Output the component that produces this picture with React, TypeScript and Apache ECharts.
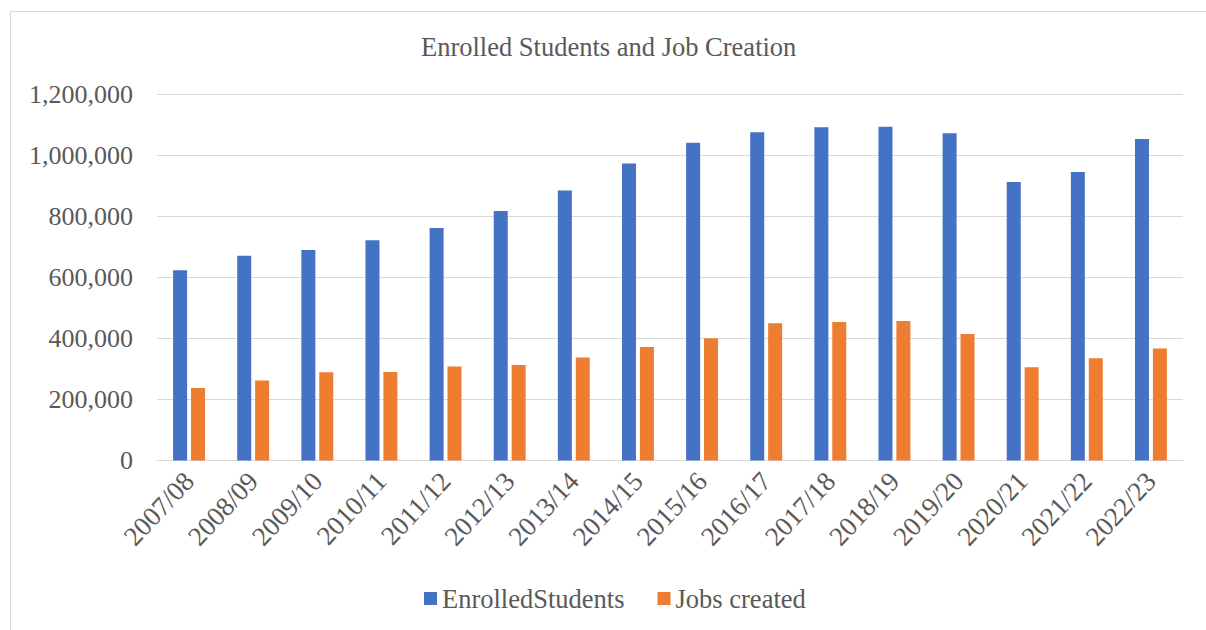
import React, { useEffect, useRef } from "react";
import * as echarts from "echarts";

const categories = [
  "2007/08", "2008/09", "2009/10", "2010/11", "2011/12", "2012/13", "2013/14", "2014/15",
  "2015/16", "2016/17", "2017/18", "2018/19", "2019/20", "2020/21", "2021/22", "2022/23",
];
const enrolledStudents = [
  624000, 671000, 690000, 722000, 762000, 818000, 885000, 974000,
  1042000, 1076000, 1093000, 1094000, 1073000, 913000, 946000, 1054000,
];
const jobsCreated = [
  238000, 262000, 289000, 290000, 308000, 313000, 338000, 372000,
  401000, 450000, 454000, 457000, 415000, 306000, 335000, 367000,
];
const seriesNames = ["EnrolledStudents", "Jobs created"];
const titleText = "Enrolled Students and Job Creation";

const FONT = "Liberation Serif";
const TEXT = "#595959";

export default function App() {
  const ref = useRef<HTMLDivElement>(null);
  useEffect(() => {
    document.body.style.margin = "0";
    const chart = echarts.init(ref.current!, null, { renderer: "svg" });
    chart.setOption({
      animation: false,
      backgroundColor: "#ffffff",
      textStyle: { fontFamily: FONT, color: TEXT },
      graphic: [
        {
          type: "rect",
          shape: { x: 10.5, y: 11.5, width: 1220, height: 700 },
          style: { fill: "none", stroke: "#d9d9d9", lineWidth: 1 },
          silent: true,
        },
      ],
      title: {
        text: titleText,
        left: 421,
        top: 33,
        padding: 0,
        textStyle: { fontFamily: FONT, fontSize: 26.5, fontWeight: "normal", color: TEXT },
      },
      legend: {
        data: seriesNames,
        left: 424,
        top: 585,
        itemWidth: 13,
        itemHeight: 13,
        itemGap: 33,
        icon: "rect",
        padding: 0,
        textStyle: { fontFamily: FONT, fontSize: 26.5, color: TEXT },
      },
      grid: { left: 157, right: 23, top: 94.5, bottom: 169.5, containLabel: false },
      xAxis: {
        type: "category",
        data: categories,
        axisLine: { lineStyle: { color: "#d9d9d9", width: 1 } },
        axisTick: { show: false },
        axisLabel: {
          rotate: 47,
          margin: 16,
          interval: 0,
          fontFamily: FONT,
          fontSize: 27,
          color: TEXT,
        },
      },
      yAxis: {
        type: "value",
        min: 0,
        max: 1200000,
        interval: 200000,
        axisLine: { show: false },
        axisTick: { show: false },
        splitLine: { lineStyle: { color: "#d9d9d9", width: 1 } },
        axisLabel: {
          margin: 24,
          fontFamily: FONT,
          fontSize: 26,
          color: TEXT,
          formatter: (v: number) => v.toLocaleString("en-US"),
        },
      },
      series: [
        {
          name: seriesNames[0],
          type: "bar",
          data: enrolledStudents,
          barWidth: 14,
          barGap: "28%",
          itemStyle: { color: "#4472C4" },
        },
        {
          name: seriesNames[1],
          type: "bar",
          data: jobsCreated,
          barWidth: 14,
          barGap: "28%",
          itemStyle: { color: "#ED7D31" },
        },
      ],
    });
    return () => chart.dispose();
  }, []);
  return (
    <div
      ref={ref}
      style={{ position: "fixed", left: 0, top: 0, width: 1206, height: 630 }}
    />
  );
}
